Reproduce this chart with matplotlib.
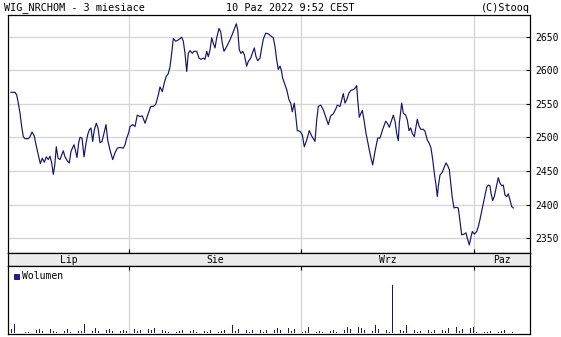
import numpy as np
import matplotlib
matplotlib.use("Agg")
import matplotlib.pyplot as plt

# ---- data (time axis in chart units; month starts marked below) ----
t = [11, 15, 16.7, 18.3, 20, 21.7, 23.3, 25, 28.3, 30, 32, 34.3, 36, 38.3, 40.3, 42.3, 44.3, 46.3,
     48.3, 50, 51.7, 53.3, 54.7, 56.3, 58, 60, 61.7, 63.3, 65, 67.3, 69.3, 71, 72.7, 74, 75.7, 77,
     78.7, 80, 82, 84, 86, 87.7, 89.3, 91, 92.7, 94.3, 96.3, 98, 100, 102, 104, 106, 107.7, 110,
     112.7, 115, 117.3, 120, 123.3, 125, 126.7, 128.7,
     130, 132.7, 135, 137.3, 140, 142.3, 145, 147.3, 150.7, 153.3, 155.7, 158.3, 160, 162.3, 164.3,
     166, 168.3, 170, 171.7, 173.3, 175.7, 177.3, 179.3, 181.7, 183.3, 185, 186.7, 188.3, 190, 192.3,
     194, 196.7, 199, 201, 203.3, 205, 206.7, 208.3, 210, 211.7, 213.3, 215, 216.7, 219, 220.7, 222.3,
     224, 226.7, 230, 233.3, 236.3, 237.7, 239.3, 241, 242.7, 244.3, 246.7, 248.3, 250.7,
     252.3, 254.3, 256, 257.7, 260, 261.7, 263.3, 265.7, 268.3, 270.7, 273.3, 275, 276.7, 278.3, 280,
     281.3, 282.7, 284.3, 286.7, 289, 290.7, 292.3, 294.3, 295.7, 297.3, 300, 302.3, 304.3, 306.7,
     309.3, 311.7, 315, 316.7, 318.3, 320.7, 323.3, 326, 328.3, 330.7, 333.3, 335.7, 337.3, 340,
     341.7, 343.3, 345, 346.7, 349, 351, 353.3, 355, 356.7, 357.7, 359.3, 361, 362.3, 364, 366,
     368.3, 370.7, 372.7, 375, 377.7, 380,
     382.7, 385.7, 387.3, 389.3, 391.7, 393.3, 395, 396.7, 398.3, 399.3, 401.7, 403.3, 405.7, 407.3,
     409, 410.7, 412.3, 414.3, 416, 417.3, 419, 420.7, 423.3, 425, 427.3, 429.3, 431, 432.7, 434.3,
     436, 437.3, 438.3, 440, 442.3, 444.3, 446, 447.7, 449.3, 450.7, 452.3, 454, 456, 458.3, 460,
     461.7, 464, 466, 467.3, 469.3, 471, 472.3, 474.3, 476.7, 478.3, 480, 481.7, 483.3, 485, 486.7,
     488.3, 490, 491, 492.7, 494.3, 496, 498.3, 500, 501.7, 503.3, 505, 506.7, 508.3, 510, 511.7, 513.3]

price = [2567, 2567, 2563, 2551, 2536, 2516, 2501, 2498, 2498, 2501, 2508, 2502, 2489, 2474, 2461,
         2469, 2463, 2471, 2467, 2472, 2462, 2445, 2458, 2486, 2469, 2467, 2474, 2480, 2471, 2465,
         2462, 2479, 2485, 2489, 2479, 2470, 2492, 2500, 2499, 2471, 2491, 2504, 2511, 2514, 2494,
         2511, 2521, 2514, 2492, 2494, 2506, 2519, 2496, 2481, 2467, 2477, 2484, 2485, 2484, 2489,
         2499, 2507,
         2516, 2519, 2516, 2533, 2531, 2532, 2521, 2531, 2546, 2546, 2549, 2563, 2575, 2568, 2581,
         2590, 2595, 2605, 2625, 2647, 2643, 2644, 2646, 2649, 2643, 2625, 2598, 2625, 2629, 2625,
         2628, 2628, 2618, 2616, 2618, 2616, 2628, 2620, 2630, 2648, 2640, 2633, 2648, 2662, 2657,
         2640, 2628, 2635, 2645, 2657, 2669, 2660, 2630, 2625, 2628, 2623, 2606, 2613, 2618,
         2625, 2633, 2620, 2614, 2618, 2633, 2646, 2655, 2654, 2651, 2648, 2635, 2615, 2601, 2606,
         2600, 2588, 2581, 2571, 2556, 2551, 2538, 2551, 2533, 2510, 2509, 2504, 2486, 2496,
         2510, 2502, 2494, 2526, 2546, 2548, 2541, 2529, 2519, 2532, 2535, 2542, 2548, 2546,
         2556, 2565, 2551, 2556, 2566, 2570, 2571, 2573, 2577, 2556, 2530, 2536, 2540, 2526, 2506,
         2489, 2471, 2459, 2479, 2499, 2499,
         2512, 2524, 2521, 2515, 2526, 2533, 2524, 2506, 2495, 2521, 2551, 2536, 2533, 2526,
         2510, 2514, 2506, 2501, 2516, 2527, 2517, 2512, 2512, 2509, 2496, 2491, 2484, 2467, 2447,
         2429, 2412, 2427, 2444, 2448, 2456, 2462, 2458, 2452, 2432, 2410, 2395, 2396, 2395, 2375,
         2355, 2356, 2358, 2350, 2340, 2352, 2360, 2356, 2360, 2367, 2378, 2390, 2402, 2414, 2426,
         2429, 2428, 2417, 2406, 2412, 2424, 2440, 2432, 2428, 2429, 2414, 2412, 2416, 2407, 2397, 2395]

volume = [4, 9, 2, 0, 0, 1, 1, 2, 3, 3, 4, 2, 3, 1, 4, 2, 1, 3, 2, 2,
          4, 1, 2, 1, 2, 2, 9, 1, 3, 2, 5, 2, 3, 1, 3, 4, 2, 3, 6, 2,
          3, 2, 4, 2, 4, 2, 3, 4, 2, 4, 3, 5, 2, 8, 3, 2, 1, 2, 1, 1,
          2, 3, 1, 3, 2, 3, 1, 2, 3, 2, 1, 3, 2, 4, 1, 2, 3, 1, 2, 8,
          2, 4, 3, 2, 3, 1, 3, 2, 4, 3, 1, 3, 5, 2, 3, 5, 3, 1, 4, 5,
          2, 4, 9, 2, 1, 2, 6, 3, 4, 1, 2, 1, 2, 1, 2, 3, 1, 2, 6, 3,
          6, 4, 9, 3, 6, 5, 3, 7, 4, 2, 8, 4, 2, 5, 3, 1, 48, 3, 2, 3,
          2, 8, 3, 2, 3, 1, 2, 9, 2, 3, 1, 3, 2, 1, 3, 2, 5, 2, 4, 6,
          2, 4, 6, 3, 5, 6, 1, 1, 1, 1, 1, 2, 1, 1, 1, 2, 3, 1, 1, 1]
vol_t = np.linspace(11.5, 512.7, len(volume))

month_starts = [129, 301, 474]
month_labels = ["Lip", "Sie", "Wrz", "Paz"]
y_ticks = [2350, 2400, 2450, 2500, 2550, 2600, 2650]

X_MIN, X_MAX = 8, 530
Y_MIN, Y_MAX = 2328, 2682

# ---- figure ----
W, H = 561, 337
fig = plt.figure(figsize=(W / 100, H / 100), dpi=100)
mono = "DejaVu Sans Mono"
line_col = "#14146e"
grid_col = "#d4d4d4"

def ax_rect(l, t_, r, b):
    return [l / W, 1 - b / H, (r - l) / W, (b - t_) / H]

# price panel
ax = fig.add_axes(ax_rect(8, 15, 530, 253))
ax.plot(t, price, color=line_col, lw=0.85)
ax.set_xlim(X_MIN, X_MAX)
ax.set_ylim(Y_MIN, Y_MAX)
for m in month_starts:
    ax.axvline(m, color=grid_col, lw=0.9, zorder=0)
for yv in y_ticks:
    ax.axhline(yv, color=grid_col, lw=0.9, zorder=0)
ax.yaxis.tick_right()
ax.set_yticks(y_ticks)
ax.set_yticklabels([str(v) for v in y_ticks], fontfamily=mono, fontsize=7)
ax.tick_params(axis="y", direction="in", length=3, width=0.8, pad=4, right=True, left=False)
ax.set_xticks(month_starts)
ax.set_xticklabels([])
ax.tick_params(axis="x", direction="in", length=3, width=0.8, bottom=True, top=False)
for s in ax.spines.values():
    s.set_color("black")
    s.set_linewidth(0.9)

# month band
band = fig.add_axes(ax_rect(8, 253, 530, 266))
band.set_facecolor("#ececec")
band.set_xlim(X_MIN, X_MAX)
band.set_ylim(0, 1)
band.set_xticks([])
band.set_yticks([])
edges = [X_MIN] + month_starts + [X_MAX]
for i, lab in enumerate(month_labels):
    band.text((edges[i] + edges[i + 1]) / 2, 0.45, lab, ha="center", va="center",
              fontfamily=mono, fontsize=7, color="black")
for s in band.spines.values():
    s.set_color("black")
    s.set_linewidth(0.9)

# volume panel
vax = fig.add_axes(ax_rect(8, 266, 530, 334))
vax.bar(vol_t, volume, width=0.7, color=line_col, linewidth=0)
vax.set_xlim(X_MIN, X_MAX)
vax.set_ylim(-0.5, 67)
for m in month_starts:
    vax.axvline(m, color=grid_col, lw=0.9, zorder=0)
vax.set_yticks([])
vax.set_xticks(month_starts)
vax.set_xticklabels([])
vax.tick_params(axis="x", direction="in", length=3, width=0.8, bottom=False, top=True)
for s in vax.spines.values():
    s.set_color("black")
    s.set_linewidth(0.9)

# legend
fig.patches.append(plt.Rectangle((14 / W, 1 - 279 / H), 5 / W, 5 / H, transform=fig.transFigure,
                                 facecolor="#1a1ab4", edgecolor="#10105a", lw=0.6))
fig.text(22 / W, 1 - 276 / H, "Wolumen", fontfamily=mono, fontsize=7, va="center", ha="left")

# header texts
fig.text(4 / W, 1 - 8 / H, "WIG_NRCHOM - 3 miesiace", fontfamily=mono, fontsize=7.3,
         va="center", ha="left")
fig.text(290 / W, 1 - 8 / H, "10 Paz 2022 9:52 CEST", fontfamily=mono, fontsize=7.3,
         va="center", ha="center")
fig.text(530 / W, 1 - 8 / H, "(C)Stooq", fontfamily=mono, fontsize=7.3,
         va="center", ha="right")

fig.savefig("out.png", dpi=100, facecolor="white")
